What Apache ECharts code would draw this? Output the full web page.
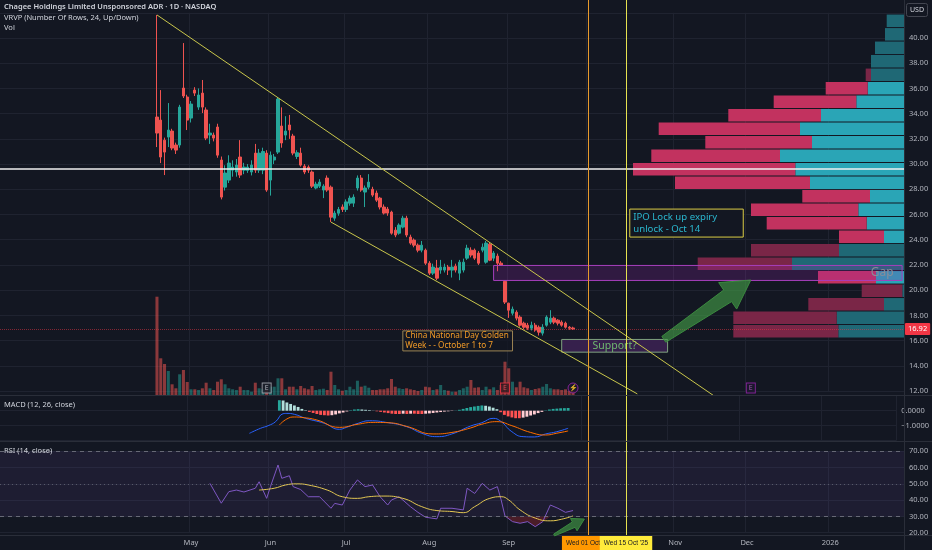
<!DOCTYPE html>
<html>
<head>
<meta charset="utf-8">
<title>Chagee Holdings - 1D</title>
<script src="https://cdn.jsdelivr.net/npm/echarts@6.0.0/dist/echarts.min.js"></script>
<style>
  html, body { margin: 0; padding: 0; background: #131722; }
  #chart { width: 932px; height: 550px; }
</style>
</head>
<body>
<div id="chart"></div>
<script>
// ---------- values ----------
const firstBar = '2025-04-17';   // IPO day, first candle
const leadBars = 41;             // empty bars left of the first candle
const barCount = 239;            // bars on the time scale (incl. future space)
const holidays = ['2025-02-17', '2025-04-18', '2025-05-26', '2025-06-19', '2025-07-04',
  '2025-09-01', '2025-11-27', '2025-12-25', '2026-01-01', '2026-01-19'];

// [open, close, low, high] per trading day from firstBar
const candles = [
  [33.73, 32.46, 31.35, 41.83], [33.49, 30.56, 30.08, 35.87], [31.90, 30.95, 29.13, 32.10],
  [32.14, 32.70, 31.35, 34.84], [32.62, 31.27, 31.10, 32.80], [31.51, 31.11, 30.80, 31.70],
  [31.51, 34.52, 31.30, 34.70], [36.03, 35.40, 35.24, 39.60], [35.32, 33.49, 32.70, 35.50],
  [33.65, 34.76, 33.30, 35.00], [35.87, 35.63, 35.40, 36.10], [34.52, 35.48, 34.30, 36.00],
  [35.63, 34.52, 34.05, 36.67], [34.29, 32.06, 31.90, 34.50], [32.30, 32.46, 31.60, 33.20],
  [32.30, 32.06, 31.80, 32.50], [32.94, 30.71, 30.50, 33.20], [30.32, 27.38, 27.20, 30.60],
  [28.17, 29.29, 27.90, 29.90], [28.73, 30.08, 28.50, 30.70], [29.52, 29.76, 29.00, 30.30],
  [29.37, 29.92, 29.00, 30.40], [30.56, 29.13, 28.90, 31.90], [29.52, 29.76, 29.20, 30.10],
  [29.50, 29.76, 29.30, 30.00], [29.37, 29.92, 29.10, 30.30], [30.87, 29.52, 29.30, 31.60],
  [29.52, 30.87, 29.30, 31.20], [29.52, 31.00, 29.20, 31.30], [30.87, 27.94, 27.80, 31.10],
  [28.73, 30.71, 27.50, 31.00], [30.32, 30.56, 30.00, 30.80], [30.95, 35.16, 30.80, 35.30],
  [33.02, 31.67, 31.30, 34.50], [32.30, 32.62, 31.90, 33.80], [33.10, 32.70, 32.00, 33.90],
  [32.22, 30.87, 30.70, 32.40], [30.60, 30.90, 30.40, 31.10], [30.87, 29.92, 29.80, 31.30],
  [29.84, 29.37, 29.20, 30.00], [29.76, 29.52, 29.30, 29.90], [29.37, 28.25, 28.10, 29.50],
  [28.10, 28.41, 28.00, 28.60], [28.25, 28.57, 28.10, 28.80], [27.94, 28.25, 27.30, 28.40],
  [28.89, 27.94, 27.80, 29.10], [28.17, 25.79, 25.40, 28.30], [25.71, 26.11, 25.50, 26.30],
  [26.10, 26.40, 25.90, 26.60], [26.60, 26.40, 26.20, 26.80], [26.40, 27.00, 26.20, 27.20],
  [26.90, 27.30, 26.70, 27.50], [26.90, 27.38, 26.60, 27.60], [28.10, 28.89, 27.90, 29.10],
  [28.89, 27.94, 27.80, 29.13], [27.78, 28.10, 26.59, 28.30], [28.17, 28.57, 28.00, 29.20],
  [28.00, 27.54, 27.40, 28.20], [27.70, 27.14, 27.00, 27.90], [27.30, 26.59, 26.40, 27.40],
  [26.59, 26.11, 26.00, 26.80], [26.43, 26.11, 25.90, 26.60], [26.19, 24.52, 24.40, 26.30],
  [24.76, 24.37, 24.20, 25.00], [24.52, 25.16, 24.40, 25.30], [25.00, 25.71, 24.90, 25.90],
  [25.71, 24.37, 24.20, 25.90], [24.21, 23.73, 23.60, 24.40], [23.97, 23.57, 23.40, 24.10],
  [23.57, 23.17, 23.00, 23.70], [23.17, 23.57, 23.00, 23.90], [23.17, 22.14, 22.00, 23.30],
  [22.14, 21.35, 21.20, 22.30], [21.35, 21.83, 21.20, 22.10], [21.75, 20.95, 20.80, 22.40],
  [21.59, 21.83, 21.30, 22.40], [21.59, 21.83, 21.40, 22.10], [21.83, 21.59, 21.20, 22.00],
  [21.59, 21.83, 21.00, 22.40], [21.90, 21.59, 21.40, 22.10], [21.35, 22.22, 20.79, 22.40],
  [21.59, 22.22, 21.40, 22.50], [22.54, 23.33, 22.40, 23.60], [23.17, 22.78, 22.60, 23.40],
  [23.17, 22.54, 22.40, 23.30], [22.94, 22.14, 22.00, 23.10], [23.17, 23.41, 23.00, 23.70],
  [22.22, 23.73, 22.10, 23.90], [23.65, 22.38, 22.30, 23.80], [22.54, 22.94, 22.30, 23.10],
  [22.70, 22.14, 21.50, 22.90], [22.14, 21.98, 21.96, 22.30], [20.70, 19.05, 18.90, 20.77],
  [18.97, 18.41, 17.80, 19.00], [18.17, 18.49, 18.00, 18.70], [18.25, 17.78, 17.60, 18.40],
  [17.86, 17.22, 17.10, 18.00], [17.38, 17.06, 16.90, 17.50], [17.22, 16.98, 16.85, 17.40],
  [16.98, 17.22, 16.80, 17.50], [17.22, 16.83, 16.70, 17.40], [17.06, 16.67, 16.40, 17.20],
  [16.59, 17.06, 16.40, 17.30], [17.22, 17.86, 17.10, 18.00], [17.46, 17.78, 17.30, 18.41],
  [17.78, 17.46, 17.30, 17.90], [17.62, 17.38, 17.20, 17.70], [17.46, 17.22, 17.10, 17.60],
  [17.38, 17.06, 16.95, 17.50], [17.06, 16.98, 16.85, 17.15], [17.00, 16.92, 16.85, 17.10]
];

// daily volume, millions of shares
const volumes = [
  9.83, 3.67, 3.10, 2.40, 1.07, 0.67, 2.07, 2.50, 1.30, 0.57, 0.57, 0.50, 0.67, 1.23, 0.67,
  0.50, 1.33, 1.57, 1.07, 0.67, 0.57, 0.50, 0.83, 0.50, 0.50, 0.33, 1.23, 0.67, 0.57, 0.50,
  0.83, 0.83, 1.67, 1.67, 0.57, 0.83, 0.83, 0.57, 0.90, 0.67, 0.57, 0.90, 0.50, 0.57, 0.63,
  0.50, 2.33, 1.00, 0.57, 0.43, 0.50, 0.83, 0.57, 1.43, 0.83, 0.93, 0.73, 0.50, 0.50, 0.57,
  0.57, 0.67, 1.60, 0.83, 0.67, 0.60, 0.67, 0.57, 0.50, 0.40, 0.50, 0.83, 0.77, 0.50, 0.57,
  1.00, 0.50, 0.43, 0.33, 0.33, 0.50, 0.67, 0.83, 1.50, 0.73, 0.77, 0.50, 0.83, 0.57, 0.77,
  0.50, 1.00, 3.33, 2.67, 1.33, 0.77, 1.33, 0.77, 0.67, 0.50, 0.60, 0.67, 0.83, 1.10, 0.67,
  0.57, 0.57, 0.50, 0.57, 0.40, 0.40
];

// visible-range volume profile, 24 rows, listed from the top row down
const vpTop = 41.9;
const vpBottom = 16.2;
const vpUp   = [17.3, 19, 29, 33, 33, 36.3, 47.7, 83, 104, 92, 124, 108.7,
                94, 34, 45.7, 37.3, 20, 65, 112, 28, 1.7, 20, 67.3, 65.7];
const vpDown = [0, 0, 0, 0, 5.3, 42, 82.6, 92.7, 141.3, 106.7, 128.7, 162.3,
                135, 67.7, 107.3, 100, 45, 88, 94.3, 58, 40.6, 75.7, 103.4, 105];
const vpValueRows = [6, 7, 8, 9, 10, 11, 12, 13, 14, 15, 16, 17, 20];

const pocPrice = 29.6;
const lastPrice = 16.92;

// drawings: [bar index, price]
const upperTrend = [[41, 41.83], [188, 11.67]];
const lowerTrend = [[87, 25.40], [168, 11.77]];
const gapZone = [[130, 21.96], [238, 20.77]];
const supportBox = [[148, 16.09], [176, 15.08]];
const holidayNote = [[106, 16.77], [135, 15.18]];
const lockupNote = [[166, 26.43], [196, 24.21]];
const bigArrow = [[175, 16.1], [198, 20.8]];
const rsiArrow = [[146, 18.6], [154, 28.4]];
const eventMarks = [[70, 'E', 'past'], [133, 'E', 'miss'], [151, '⚡', 'split'], [198, 'E', 'next']];
const oct1Bar = 155;
const oct15Bar = 165;

// MACD (12, 26, close): [bar index, value]
const macdLine = [[66, -1.51], [69, -1.17], [71, -1.0], [73, -0.73], [75, -0.2], [76, -0.18],
  [78, -0.24], [81, -0.51], [86, -0.84], [90, -1.24], [92, -1.1], [95, -0.84], [98, -0.67],
  [103, -0.8], [108, -1.07], [112, -1.51], [116, -1.73], [120, -1.55], [125, -1.02],
  [128, -0.8], [131, -0.51], [133, -0.7], [136, -1.4], [139, -1.73], [142, -1.75],
  [145, -1.55], [148, -1.4], [151, -1.17]];
const macdSignal = [[74, -0.95], [76, -0.55], [78, -0.42], [80, -0.45], [84, -0.62],
  [90, -1.11], [95, -0.9], [99, -0.78], [103, -0.8], [108, -1.05], [115, -1.55], [120, -1.45],
  [125, -1.15], [128, -0.9], [132, -0.73], [136, -1.0], [141, -1.45], [145, -1.62],
  [148, -1.5], [151, -1.35]];
const histStart = 74;
const macdHist = [
  0.70, 0.68, 0.55, 0.45, 0.35, 0.25, 0.12, 0.03, -0.08, -0.15, -0.22, -0.28, -0.30, -0.32,
  -0.30, -0.25, -0.18, -0.12, -0.05, 0.03, 0.08, 0.10, 0.08, 0.06, 0.04, 0.01, -0.04, -0.08,
  -0.12, -0.16, -0.20, -0.22, -0.22, -0.20, -0.22, -0.20, -0.20, -0.22, -0.22, -0.20, -0.18,
  -0.15, -0.12, -0.09, -0.06, -0.04, -0.02, 0.01, 0.06, 0.12, 0.18, 0.24, 0.28, 0.32, 0.35,
  0.33, 0.28, 0.20, 0.10, -0.10, -0.28, -0.38, -0.45, -0.50, -0.50, -0.46, -0.40, -0.32,
  -0.25, -0.16, -0.08, 0.02, 0.08, 0.12, 0.14, 0.16, 0.17, 0.18
];

// RSI (14, close) and its moving average: [bar index, value]
const rsiLine = [[55, 50.3], [58, 38.1], [60, 45.2], [62, 46.2], [64, 45.0], [67, 47.3],
  [68, 51.3], [70, 41.1], [71, 48.3], [73, 61.6], [74, 53.4], [76, 55.0], [77, 48.3],
  [79, 46.5], [81, 42.1], [84, 42.1], [87, 35.0], [88, 38.0], [90, 37.0], [92, 46.2],
  [94, 52.4], [96, 48.3], [98, 49.3], [100, 42.1], [102, 37.0], [103, 40.1], [105, 42.1],
  [108, 36.0], [110, 32.5], [112, 29.5], [115, 28.5], [116, 35.0], [119, 35.0], [122, 34.0],
  [123, 47.3], [125, 44.1], [127, 50.3], [129, 46.2], [131, 48.3], [132, 40.1], [133, 30.3],
  [135, 26.8], [137, 25.8], [139, 26.8], [141, 23.7], [143, 26.8], [145, 37.0], [147, 35.0],
  [149, 32.5], [151, 33.6]];
const rsiMa = [[68, 46.2], [72, 47.3], [75, 49.3], [78, 50.0], [81, 49.3], [86, 46.2],
  [90, 42.1], [94, 41.1], [97, 42.1], [101, 42.5], [106, 41.1], [111, 36.0], [115, 33.6],
  [119, 33.0], [122, 32.3], [125, 36.0], [129, 41.1], [132, 42.1], [134, 40.1], [137, 34.0],
  [141, 29.0], [145, 27.3], [148, 28.3], [151, 30.3]];
const rsiOversold = 30;

// ---------- time scale ----------
function fmt(d) { return d.toISOString().slice(0, 10); }
function isTrading(d) { return d.getUTCDay() % 6 !== 0 && !holidays.includes(fmt(d)); }
function buildDates() {
  const back = [];
  let d = new Date(firstBar + 'T00:00:00Z');
  while (back.length < leadBars) {
    d = new Date(d.getTime() - 864e5);
    if (isTrading(d)) back.unshift(fmt(d));
  }
  const fwd = [];
  d = new Date(firstBar + 'T00:00:00Z');
  while (fwd.length < barCount - leadBars) {
    if (isTrading(d)) fwd.push(fmt(d));
    d = new Date(d.getTime() + 864e5);
  }
  return back.concat(fwd);
}
const dates = buildDates();
const monthNames = ['Jan', 'Feb', 'Mar', 'Apr', 'May', 'Jun', 'Jul', 'Aug', 'Sep', 'Oct', 'Nov', 'Dec'];
const monthStarts = new Set();
for (let i = leadBars + 1; i < dates.length; i++) {
  if (dates[i].slice(5, 7) !== dates[i - 1].slice(5, 7)) monthStarts.add(i);
}
function monthLabel(value) {
  const m = +value.slice(5, 7);
  return m === 1 ? value.slice(0, 4) : monthNames[m - 1];
}

// ---------- styling ----------
const bg = '#131722';
const gridColor = '#1f2330';
const axisText = '#b2b5be';
const upColor = '#26a69a';
const downColor = '#ef5350';
const font = '"Noto Sans", sans-serif';
const plotW = 904;

const candleData = candles.map((c, i) => [leadBars + i, c[0], c[1], c[2], c[3]]);
const volumeData = volumes.map((v, i) => ({
  value: [leadBars + i, v],
  itemStyle: { color: candles[i][1] >= candles[i][0] ? 'rgba(38,166,154,0.5)' : 'rgba(239,83,80,0.55)' }
}));
const histData = macdHist.map((v, i) => {
  const prev = i > 0 ? macdHist[i - 1] : v;
  let color;
  if (v >= 0) color = v >= prev ? '#26a69a' : '#b2dfdb';
  else color = v <= prev ? '#ff5252' : '#ffcdd2';
  return { value: [histStart + i, v], itemStyle: { color } };
});
const vpRowH = (vpTop - vpBottom) / vpUp.length;
const markStyles = {
  past:  { border: '#b2b5be', text: '#d1d4dc', fill: '#1e222d', symbol: 'rect' },
  miss:  { border: '#f23645', text: '#f7525f', fill: '#3a1c22', symbol: 'rect' },
  split: { border: '#9c27b0', text: '#ba68c8', fill: '#1e1830', symbol: 'circle' },
  next:  { border: '#9c27b0', text: '#ba68c8', fill: '#1e1830', symbol: 'rect' }
};

function catAxis(gridIndex, extra) {
  return Object.assign({
    type: 'category', gridIndex, data: dates, boundaryGap: true,
    axisLine: { show: false }, axisTick: { show: false }, axisLabel: { show: false },
    splitLine: { show: true, interval: (i) => monthStarts.has(i), lineStyle: { color: gridColor } }
  }, extra || {});
}
function areaItem(box, style, label) {
  return [
    { xAxis: box[0][0], yAxis: box[0][1], itemStyle: style, label },
    { xAxis: box[1][0], yAxis: box[1][1] }
  ];
}
function dateTag(text, color) {
  return {
    show: true, position: 'start', distance: 0, formatter: text,
    backgroundColor: color, color: '#131722', fontSize: 6.5, fontFamily: 'Liberation Sans',
    padding: [4, 4, 4, 4]
  };
}

const chart = echarts.init(document.getElementById('chart'));

const option = {
  backgroundColor: bg,
  animation: false,
  textStyle: { fontFamily: font },
  grid: [
    { left: 0, top: 12.8, width: plotW, height: 378.2 },   // price
    { left: 0, top: 290, width: plotW, height: 105 },      // volume
    { left: 0, top: 395.7, width: plotW, height: 45 },     // MACD
    { left: 0, top: 451.3, width: plotW, height: 81.4 },   // RSI
    { left: 0, top: 0, width: plotW, height: 535.7 },      // full-height overlay
    { left: plotW - 300, top: 12.8, width: 300, height: 378.2 } // volume profile
  ],
  xAxis: [
    catAxis(0),
    catAxis(1, { splitLine: { show: false } }),
    catAxis(2),
    catAxis(3, {
      axisLabel: {
        show: true, interval: (i) => monthStarts.has(i), formatter: monthLabel,
        color: axisText, fontSize: 7.5, margin: 6
      }
    }),
    catAxis(4, { splitLine: { show: false } }),
    { type: 'value', gridIndex: 5, min: 0, max: 300, inverse: true, show: false }
  ],
  yAxis: [
    {
      type: 'value', gridIndex: 0, position: 'right', min: 12, max: 42, interval: 2,
      axisLine: { show: false }, axisTick: { show: false },
      axisLabel: { margin: 5, color: axisText, fontSize: 7.5, formatter: (v) => (v > 40.5 ? '' : v.toFixed(2)) },
      splitLine: { lineStyle: { color: gridColor } }
    },
    { type: 'value', gridIndex: 1, min: 0, max: 10.5, show: false },
    {
      type: 'value', gridIndex: 2, position: 'right', min: -2, max: 1, interval: 1,
      axisLine: { show: false }, axisTick: { show: false },
      axisLabel: {
        margin: 5, color: axisText, fontSize: 7.5,
        formatter: (v) => (v === 0 ? '0.0000' : v === -1 ? '\u22121.0000' : '')
      },
      splitLine: { lineStyle: { color: gridColor } }
    },
    {
      type: 'value', gridIndex: 3, position: 'right', min: 20, max: 70, interval: 10,
      axisLine: { show: false }, axisTick: { show: false },
      axisLabel: { margin: 5, color: axisText, fontSize: 7.5, formatter: (v) => v.toFixed(2) },
      splitLine: { lineStyle: { color: gridColor } }
    },
    { type: 'value', gridIndex: 4, min: 0, max: 1, show: false },
    { type: 'value', gridIndex: 5, min: 12, max: 42, show: false }
  ],
  series: [
    {
      name: 'VRVP', type: 'custom', xAxisIndex: 5, yAxisIndex: 5, z: 1, silent: true,
      data: vpUp.map((u, i) => [i, u, vpDown[i]]),
      encode: { x: [1, 2], y: 0 },
      renderItem(params, api) {
        const row = api.value(0);
        const up = api.value(1);
        const down = api.value(2);
        const hi = vpTop - row * vpRowH;
        const lo = hi - vpRowH;
        const a = api.coord([0, hi]);
        const b = api.coord([up, lo]);
        const c = api.coord([up + down, lo]);
        const bright = vpValueRows.includes(row + 1);
        const y = a[1] + 0.5;
        const h = b[1] - a[1] - 1;
        return {
          type: 'group',
          children: [
            { type: 'rect', shape: { x: b[0], y, width: a[0] - b[0], height: h },
              style: { fill: bright ? '#2aa5b6' : '#1f6875' } },
            { type: 'rect', shape: { x: c[0], y, width: b[0] - c[0], height: h },
              style: { fill: bright ? '#c2325f' : '#7a2647' } }
          ]
        };
      }
    },
    {
      name: 'Price', type: 'candlestick', xAxisIndex: 0, yAxisIndex: 0, z: 3,
      data: candleData, encode: { x: 0, y: [1, 2, 3, 4] }, barWidth: '76%',
      itemStyle: { color: upColor, color0: downColor, borderColor: upColor, borderColor0: downColor, borderWidth: 1 },
      markLine: {
        silent: true, symbol: ['none', 'none'], z: 5,
        data: [
          { yAxis: pocPrice, lineStyle: { color: '#f0f0f0', width: 1.5, type: 'solid' }, label: { show: false } },
          {
            yAxis: lastPrice, lineStyle: { color: 'rgba(242,54,69,0.5)', width: 1, type: 'dotted' },
            label: {
              show: true, position: 'end', distance: 1, formatter: lastPrice.toFixed(2),
              backgroundColor: '#f23645', color: '#ffffff', fontSize: 7.5, padding: [2, 3, 2, 3], borderRadius: 1
            }
          }
        ]
      },
      markArea: {
        silent: true, z: 4,
        data: [
          areaItem(gapZone,
            { color: 'rgba(156,39,176,0.22)', borderColor: '#a73fbd', borderWidth: 1 },
            { show: true, position: 'insideRight', distance: 9, formatter: 'Gap', color: '#8a8d98', fontSize: 12 }),
          areaItem(supportBox,
            { color: 'rgba(58,34,80,0.92)', borderColor: '#7fa37f', borderWidth: 1 },
            { show: true, position: 'inside', formatter: 'Support?', color: '#6fb86f', fontSize: 10.5 }),
          areaItem(holidayNote,
            { color: 'rgba(19,23,34,0.75)', borderColor: '#9c8554', borderWidth: 1 },
            { show: true, position: 'insideLeft', distance: 3, formatter: 'China National Day Golden\nWeek - - October 1 to 7',
              color: '#f39c27', fontSize: 8.2, lineHeight: 10 }),
          areaItem(lockupNote,
            { color: '#131722', borderColor: '#dccd45', borderWidth: 1 },
            { show: true, position: 'insideLeft', distance: 4, formatter: 'IPO Lock up expiry\nunlock - Oct 14',
              color: '#2bb7cf', fontSize: 9.6, lineHeight: 11.5 })
        ]
      }
    },
    {
      name: 'Upper trend', type: 'line', xAxisIndex: 0, yAxisIndex: 0, z: 6, clip: false,
      data: upperTrend, symbol: 'none', lineStyle: { color: '#c9c64b', width: 1 }
    },
    {
      name: 'Lower trend', type: 'line', xAxisIndex: 0, yAxisIndex: 0, z: 6, clip: false,
      data: lowerTrend, symbol: 'none', lineStyle: { color: '#c9c64b', width: 1 }
    },
    {
      name: 'Vol', type: 'bar', xAxisIndex: 1, yAxisIndex: 1, z: 2,
      data: volumeData, barWidth: '80%'
    },
    {
      name: 'Events', type: 'scatter', xAxisIndex: 1, yAxisIndex: 1, z: 5,
      data: eventMarks.map(([idx, text, kind]) => {
        const s = markStyles[kind];
        return {
          value: [idx, 0.7], symbol: s.symbol,
          symbolSize: s.symbol === 'circle' ? 10 : [9, 10],
          itemStyle: { color: s.fill, borderColor: s.border, borderWidth: 1 },
          label: { show: true, position: 'inside', formatter: text, color: s.text, fontSize: 7 }
        };
      })
    },
    {
      name: 'Histogram', type: 'bar', xAxisIndex: 2, yAxisIndex: 2,
      data: histData, barWidth: '76%'
    },
    {
      name: 'MACD', type: 'line', xAxisIndex: 2, yAxisIndex: 2, smooth: true,
      data: macdLine, symbol: 'none', lineStyle: { color: '#2962ff', width: 1 }
    },
    {
      name: 'Signal', type: 'line', xAxisIndex: 2, yAxisIndex: 2, smooth: true,
      data: macdSignal, symbol: 'none', lineStyle: { color: '#ff6d00', width: 1 }
    },
    {
      name: 'Oversold fill', type: 'custom', xAxisIndex: 3, yAxisIndex: 3, silent: true, z: 1,
      data: [[0]],
      renderItem(params, api) {
        const pts = rsiLine.filter((p) => p[0] >= 132 && p[0] <= 145)
          .map((p) => api.coord([p[0], Math.min(p[1], rsiOversold)]));
        pts.push(api.coord([145, rsiOversold]));
        pts.unshift(api.coord([132, rsiOversold]));
        return { type: 'polygon', shape: { points: pts }, style: { fill: 'rgba(178,40,51,0.35)' } };
      }
    },
    {
      name: 'RSI', type: 'line', xAxisIndex: 3, yAxisIndex: 3, z: 3,
      data: rsiLine, symbol: 'none', lineStyle: { color: '#7e57c2', width: 1 },
      markArea: {
        silent: true,
        data: [[{ yAxis: 30, itemStyle: { color: 'rgba(126,87,194,0.1)' } }, { yAxis: 70 }]]
      },
      markLine: {
        silent: true, symbol: ['none', 'none'], label: { show: false },
        data: [
          { yAxis: 70, lineStyle: { color: '#787b86', type: [4, 4], width: 1, opacity: 0.8 } },
          { yAxis: 50, lineStyle: { color: '#787b86', type: [1, 3], width: 1, opacity: 0.6 } },
          { yAxis: 30, lineStyle: { color: '#787b86', type: [4, 4], width: 1, opacity: 0.8 } }
        ]
      }
    },
    {
      name: 'RSI MA', type: 'line', xAxisIndex: 3, yAxisIndex: 3, smooth: true, z: 3,
      data: rsiMa, symbol: 'none', lineStyle: { color: '#e3c752', width: 1 }
    },
    {
      name: 'Date lines', type: 'line', xAxisIndex: 4, yAxisIndex: 4, z: 10,
      data: [[0, 0]], symbol: 'none', lineStyle: { opacity: 0 },
      markLine: {
        silent: true, symbol: ['none', 'none'], z: 10,
        data: [
          { xAxis: oct1Bar, lineStyle: { color: '#e89a2c', width: 1, type: 'solid' }, label: dateTag("Wed 01 Oct '25", '#ff9800') },
          { xAxis: oct15Bar, lineStyle: { color: '#e6e24f', width: 1, type: 'solid' }, label: dateTag("Wed 15 Oct '25", '#ffeb3b') }
        ]
      }
    }
  ]
};

chart.setOption(option);

// ---------- overlays placed through the axes ----------
function arrowShape(tail, tip, tailHalf, shaftHalf, headHalf, headLen) {
  const dx = tip[0] - tail[0];
  const dy = tip[1] - tail[1];
  const len = Math.hypot(dx, dy);
  const ux = dx / len, uy = dy / len;
  const nx = -uy, ny = ux;
  const bx = tip[0] - ux * headLen, by = tip[1] - uy * headLen;
  return [
    [tail[0] + nx * tailHalf, tail[1] + ny * tailHalf],
    [bx + nx * shaftHalf, by + ny * shaftHalf],
    [bx + nx * headHalf, by + ny * headHalf],
    tip,
    [bx - nx * headHalf, by - ny * headHalf],
    [bx - nx * shaftHalf, by - ny * shaftHalf],
    [tail[0] - nx * tailHalf, tail[1] - ny * tailHalf]
  ];
}
const priceFinder = { xAxisIndex: 0, yAxisIndex: 0 };
const rsiFinder = { xAxisIndex: 3, yAxisIndex: 3 };
const bigTail = chart.convertToPixel(priceFinder, bigArrow[0]);
const bigTip = chart.convertToPixel(priceFinder, bigArrow[1]);
const smallTail = chart.convertToPixel(rsiFinder, rsiArrow[0]);
const smallTip = chart.convertToPixel(rsiFinder, rsiArrow[1]);
const arrowStyle = { fill: 'rgba(67,160,71,0.62)', stroke: '#3b8a3f', lineWidth: 1 };
const sep = '#2a2e39';
const headText = { fill: '#d1d4dc', fontSize: 7.5, fontFamily: font };

chart.setOption({
  graphic: [
    { type: 'line', z: 50, silent: true, shape: { x1: plotW + 0.5, y1: 0, x2: plotW + 0.5, y2: 550 }, style: { stroke: sep } },
    { type: 'line', z: 50, silent: true, shape: { x1: 0, y1: 395.5, x2: 932, y2: 395.5 }, style: { stroke: sep } },
    { type: 'line', z: 50, silent: true, shape: { x1: 0, y1: 441.5, x2: 932, y2: 441.5 }, style: { stroke: sep } },
    { type: 'line', z: 50, silent: true, shape: { x1: 0, y1: 535.5, x2: 932, y2: 535.5 }, style: { stroke: sep } },
    { type: 'text', z: 60, left: 4, top: 3, style: Object.assign({ text: 'Chagee Holdings Limited Unsponsored ADR \u00b7 1D \u00b7 NASDAQ', fontWeight: 600 }, headText) },
    { type: 'text', z: 60, left: 4, top: 14, style: Object.assign({ text: 'VRVP (Number Of Rows, 24, Up/Down)' }, headText) },
    { type: 'text', z: 60, left: 4, top: 23.5, style: Object.assign({ text: 'Vol' }, headText) },
    { type: 'text', z: 60, left: 4, top: 400.5, style: Object.assign({ text: 'MACD (12, 26, close)' }, headText) },
    { type: 'text', z: 60, left: 4, top: 446.5, style: Object.assign({ text: 'RSI (14, close)' }, headText) },
    { type: 'rect', z: 60, shape: { x: 906.5, y: 3.5, width: 21, height: 13, r: 2 }, style: { fill: bg, stroke: '#434651' } },
    { type: 'text', z: 61, x: 917, y: 10, style: { text: 'USD', fill: '#d1d4dc', fontSize: 7, fontFamily: font, align: 'center', verticalAlign: 'middle' } },
    { type: 'polygon', z: 70, silent: true, shape: { points: arrowShape(bigTail, bigTip, 3.5, 7, 16, 28) }, style: arrowStyle },
    { type: 'polygon', z: 70, silent: true, shape: { points: arrowShape(smallTail, smallTip, 1, 3, 7, 12) }, style: arrowStyle }
  ]
});
</script>
</body>
</html>
